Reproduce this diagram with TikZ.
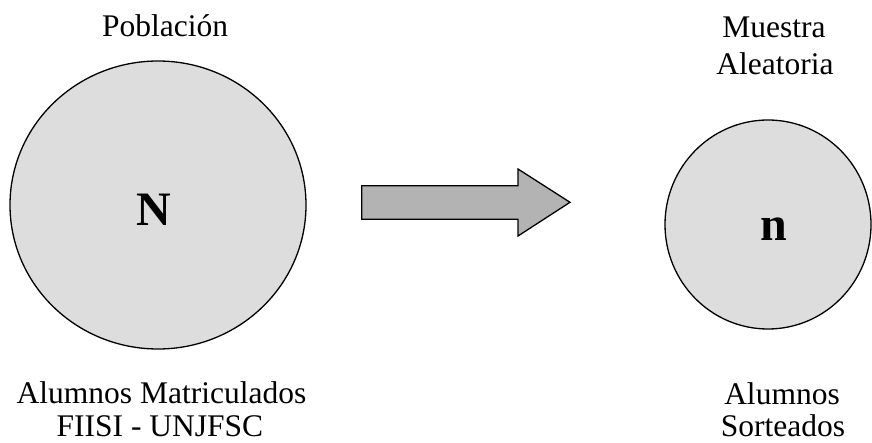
\documentclass[tikz,border=0pt]{standalone}
\usepackage{fontspec}
\setmainfont{Liberation Serif}
\usetikzlibrary{shapes.geometric}
\definecolor{circfill}{HTML}{DDDDDD}
\definecolor{arrfill}{HTML}{B3B3B3}
\tikzset{
  circ/.style={ellipse, draw=black, line width=1.3pt, fill=circfill, inner sep=0pt},
  lbl/.style={anchor=base, inner sep=0pt, font=\fontsize{31.5}{36}\selectfont},
  big/.style={anchor=base, inner sep=0pt, font=\fontsize{48}{52}\selectfont\bfseries},
}
\begin{document}
\begin{tikzpicture}[x=1pt,y=-1pt]
\useasboundingbox (0,0) rectangle (872,443);
\node[circ, minimum width=296pt, minimum height=288pt] (pop) at (158,205) {};
\node[circ, minimum width=206pt, minimum height=209pt] (mue) at (768,224.5) {};
\node[big] (N) at (154,225.7) {N};
\node[big] (n) at (774,240.7) {n};
\draw[line width=1.3pt, fill=arrfill, line join=miter]
  (361.7,185.7) -- (518,185.7) -- (518,169) -- (570,202.3) -- (518,236) -- (518,219.3) -- (361.7,219.3) -- cycle;
\node[lbl] (t1) at (165,36.7) {Población};
\node[lbl] (t2) at (774,38) {Muestra};
\node[lbl] (t3) at (775,75) {Aleatoria};
\node[lbl] (t4) at (161.5,403) {Alumnos Matriculados};
\node[lbl] (t5) at (160,436.5) {FIISI - UNJFSC};
\node[lbl] (t6) at (782,404.5) {Alumnos};
\node[lbl] (t7) at (783,436.5) {Sorteados};
\end{tikzpicture}
\end{document}
